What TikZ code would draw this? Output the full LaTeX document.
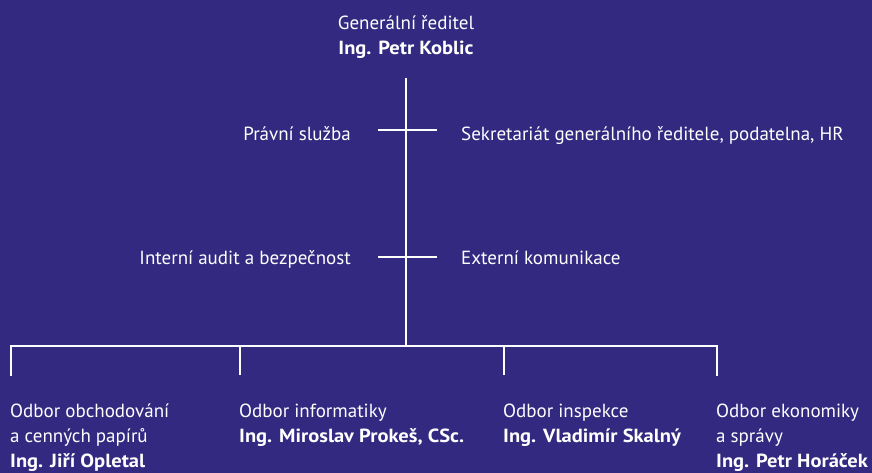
\documentclass[tikz,border=0pt]{standalone}
\usepackage{fontspec}
\usepackage{graphicx}
\setmainfont{PT Sans}
\definecolor{bg}{RGB}{51,41,128}
\newcommand{\bname}[1]{\scalebox{1.08}[1]{\textbf{#1}}}
\begin{document}
\begin{tikzpicture}[x=1pt,y=-1pt,
  txt/.style={text=white,font=\fontsize{19}{25}\selectfont,inner sep=0pt},
  ln/.style={draw=white,line width=2.4pt}]
\fill[bg] (0,0) rectangle (872,473);
\useasboundingbox (0,0) rectangle (872,473);
% top
\node[txt,align=center,anchor=base] (gr) at (406,55) {Generální ředitel\\\bname{Ing. Petr Koblic}};
\coordinate (top) at (406,78);
\coordinate (bus) at (406,346);
\draw[ln] (top) -- (bus);
% staff
\coordinate (c1l) at (378,130); \coordinate (c1r) at (437,130);
\coordinate (c2l) at (378,257); \coordinate (c2r) at (437,257);
\draw[ln] (c1l) -- (c1r);
\draw[ln] (c2l) -- (c2r);
\node[txt,anchor=base east] (pravni) at (351,141) {Právní služba};
\node[txt,anchor=base west] (sekr) at (461,141) {Sekretariát generálního ředitele, podatelna, HR};
\node[txt,anchor=base east] (audit) at (351,264) {Interní audit a bezpečnost};
\node[txt,anchor=base west] (ext) at (461,264) {Externí komunikace};
% bus
\coordinate (b1) at (11,346); \coordinate (b2) at (240,346);
\coordinate (b3) at (504,346); \coordinate (b4) at (717,346);
\coordinate (d1) at (11,375); \coordinate (d2) at (240,375);
\coordinate (d3) at (504,375); \coordinate (d4) at (717,375);
\draw[ln,line cap=rect] (d1) -- (b1) -- (b4) -- (d4);
\draw[ln] (b2) -- (d2);
\draw[ln] (b3) -- (d3);
% departments
\node[txt,align=left,anchor=base west] (o1) at (10,467) {Odbor obchodování\\a cenných papírů\\\bname{Ing. Jiří Opletal}};
\node[txt,align=left,anchor=base west] (o2) at (239,442) {Odbor informatiky\\\bname{Ing. Miroslav Prokeš, CSc.}};
\node[txt,align=left,anchor=base west] (o3) at (503,442) {Odbor inspekce\\\bname{Ing. Vladimír Skalný}};
\node[txt,align=left,anchor=base west] (o4) at (716,467) {Odbor ekonomiky\\a správy\\\bname{Ing. Petr Horáček}};
\end{tikzpicture}
\end{document}
